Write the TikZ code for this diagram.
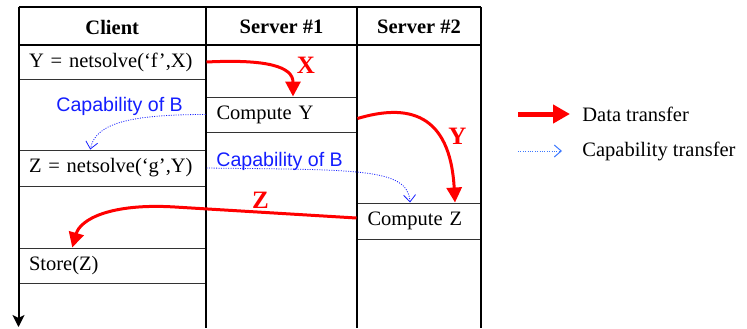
\documentclass[tikz,border=0pt]{standalone}
\usepackage{fontspec}
\setmainfont{Liberation Serif}
\newfontfamily\capfont{Liberation Sans}
\usetikzlibrary{arrows.meta}
\definecolor{datared}{RGB}{255,0,0}
\definecolor{capblue}{RGB}{20,30,255}
\definecolor{legblue}{RGB}{60,120,255}
\begin{document}
\begin{tikzpicture}[x=0.5pt,y=-0.5pt,
  txt/.style={font=\fontsize{10.25}{12}\selectfont},
  cell/.style={txt, draw=black!80, line width=0.5pt, rectangle, inner xsep=5.25pt, inner ysep=0pt, align=left},
  hdr/.style={font=\bfseries\fontsize{10.25}{12}\selectfont, inner sep=0pt},
  frame/.style={line width=1pt, black},
  datatr/.style={draw=datared, line width=1.5pt, -{Triangle[length=7.5pt,width=7.5pt]}},
  captr/.style={draw=capblue, line width=0.4pt, dash pattern=on 0.5pt off 0.7pt, -{Straight Barb[length=3.5pt,width=6pt]}},
  caplbl/.style={font=\capfont\fontsize{9.8}{11}\selectfont, text=capblue, inner sep=0pt},
  varlbl/.style={font=\bfseries\fontsize{12.5}{14}\selectfont, text=datared, inner sep=0pt}
]
\useasboundingbox (0,0) rectangle (747,328);

% cells
\node[cell, text width=83.25pt, minimum height=17pt] (yf) at (112.25,62) {Y = netsolve(‘f’,X)};
\node[cell, text width=83.25pt, minimum height=18pt] (zg) at (112.25,168) {Z = netsolve(‘g’,Y)};
\node[cell, text width=83.25pt, minimum height=17.5pt] (sz) at (112.25,265.5) {Store(Z)};
\node[cell, text width=65pt, minimum height=17.5pt] (cy) at (281.5,114.5) {Compute Y};
\node[cell, text width=51.5pt, minimum height=18pt] (cz) at (419,221) {Compute Z};

% headers
\node[hdr] (hc) at (112.25,27) {Client};
\node[hdr] (h1) at (281.5,27) {Server \#1};
\node[hdr] (h2) at (419,27) {Server \#2};

% frame
\draw[frame] (18.5,7) -- (481,7);
\draw[frame] (18.5,45) -- (481,45);
\draw[frame] (206,7) -- (206,328);
\draw[frame] (357,7) -- (357,328);
\draw[frame, line width=1.3pt] (481,7) -- (481,328);
\draw[frame, -{Stealth[length=6pt,width=6pt,inset=1.5pt]}] (18.5,7) -- (18.5,327);

% data transfers
\draw[datatr] (yf.east) .. controls +(60,-3) and +(0,-30) .. ([xshift=5.75pt]cy.north);
\node[varlbl] (lx) at (306,65.5) {X};
\draw[datatr] ([yshift=-2pt]cy.east) .. controls +(50,-15) and +(-5,-90) .. ([xshift=18pt]cz.north);
\node[varlbl] (ly) at (457.5,136.5) {Y};
\coordinate (zmid) at (175,207);
\draw[datatr] ([yshift=1.5pt]cz.west) -- (zmid) .. controls (110,203) and +(8,-28) .. ([xshift=-20pt]sz.north);
\node[varlbl] (lz) at (260.5,200) {Z};

% capability transfers
\node[caplbl, anchor=base west] (cb1) at (56,111) {Capability of B};
\draw[captr] (cy.west) .. controls +(-80,0) and +(5,-25) .. ([xshift=-11pt]zg.north);
\node[caplbl, anchor=base west] (cb2) at (216,166) {Capability of B};
\draw[captr] (zg.east) .. controls +(150,2) and +(-2,-35) .. ([xshift=-4.5pt]cz.north);

% legend
\node[txt, anchor=west, inner sep=0pt] (ldt) at (582,114) {Data transfer};
\node[txt, anchor=west, inner sep=0pt] (lct) at (582,151) {Capability transfer};
\coordinate (lds) at (518,114);
\coordinate (lcs) at (518,151);
\draw[draw=datared, line width=2.5pt, -{Triangle[length=8.5pt,width=9pt]}] (lds) -- ([xshift=-6pt]ldt.west);
\draw[draw=legblue, line width=0.5pt, dash pattern=on 0.5pt off 0.7pt, -{Straight Barb[length=3.5pt,width=6pt]}] (lcs) -- ([xshift=-10pt]lct.west);
\end{tikzpicture}
\end{document}
